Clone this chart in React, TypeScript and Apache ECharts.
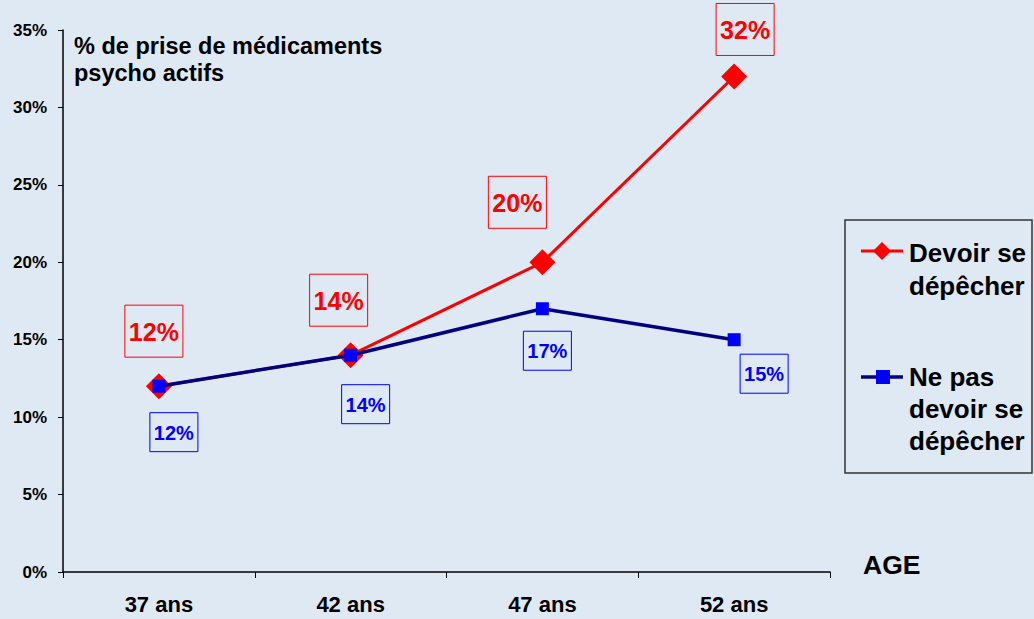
import React, { useEffect, useRef } from "react";
import * as echarts from "echarts";

const categories = ["37 ans", "42 ans", "47 ans", "52 ans"];
const seriesRushName = "Devoir se dépêcher";
const seriesNoRushName = "Ne pas devoir se dépêcher";
const rushValues = [12, 14, 20, 32];
const noRushValues = [12, 14, 17, 15];
const yTicks = [0, 5, 10, 15, 20, 25, 30, 35];

// label nudges (dx, dy) per point, as placed in the reference
const rushLabelNudge = [[-5, -2], [-12, -2], [-25, -7], [11, 6]];
const noRushLabelNudge = [[15, 0], [15, 3], [5, -4], [30, -12]];

const FONT = '"Liberation Sans", Arial, sans-serif';

export default function App() {
  const ref = useRef<HTMLDivElement>(null);
  useEffect(() => {
    if (!ref.current) return;
    const chart = echarts.init(ref.current, null, { renderer: "svg" });
    const rushData = rushValues.map((v, i) => ({
      value: v,
      label: { offset: rushLabelNudge[i] },
    }));
    const noRushData = noRushValues.map((v, i) => ({
      value: v,
      label: { offset: noRushLabelNudge[i] },
    }));
    const option = {
      animation: false,
      backgroundColor: "#dfe9f4",
      textStyle: { fontFamily: FONT },
      title: {
        text: "% de prise de médicaments\npsycho actifs",
        left: 69,
        top: 27,
        textStyle: {
          fontFamily: FONT,
          fontSize: 23.5,
          fontWeight: "bold",
          color: "#000",
          lineHeight: 27,
        },
      },
      grid: { left: 63, right: 204, top: 30, bottom: 47 },
      xAxis: {
        type: "category",
        data: categories,
        boundaryGap: true,
        axisLine: { lineStyle: { color: "#000", width: 1.5 } },
        axisTick: { show: true, length: 6, lineStyle: { color: "#000" } },
        axisLabel: {
          color: "#000",
          fontFamily: FONT,
          fontWeight: "bold",
          fontSize: 22,
          margin: 21,
        },
      },
      yAxis: {
        type: "value",
        min: yTicks[0],
        max: yTicks[yTicks.length - 1],
        interval: 5,
        axisLine: { show: true, lineStyle: { color: "#000", width: 1.5 } },
        axisTick: { show: true, length: 5, lineStyle: { color: "#000" } },
        splitLine: { show: false },
        axisLabel: {
          color: "#000",
          fontFamily: FONT,
          fontWeight: "bold",
          fontSize: 17,
          margin: 16,
          formatter: "{value}%",
        },
      },
      series: [
        {
          name: seriesRushName,
          type: "line",
          data: rushData,
          symbol: "diamond",
          symbolSize: 26,
          lineStyle: { color: "#ff0000", width: 3 },
          itemStyle: { color: "#ff0000" },
          z: 2,
          label: {
            show: true,
            position: "top",
            distance: 14,
            formatter: "{c}%",
            color: "#ff0000",
            fontFamily: FONT,
            fontWeight: "bold",
            fontSize: 25,
            borderColor: "#ff0000",
            borderWidth: 1,
            padding: [14, 4, 13, 4],
          },
        },
        {
          name: seriesNoRushName,
          type: "line",
          data: noRushData,
          symbol: "rect",
          symbolSize: 13,
          lineStyle: { color: "#000080", width: 3.5 },
          itemStyle: { color: "#0000ff" },
          z: 3,
          label: {
            show: true,
            position: "bottom",
            distance: 20,
            formatter: "{c}%",
            color: "#0000ff",
            fontFamily: FONT,
            fontWeight: "bold",
            fontSize: 20,
            borderColor: "#0000ff",
            borderWidth: 1,
            padding: [10, 4, 9, 4],
          },
        },
      ],
      graphic: [
        {
          type: "text",
          left: 863,
          top: 551,
          style: {
            text: "AGE",
            font: `bold 26.5px ${FONT}`,
            fill: "#000",
          },
        },
        {
          type: "rect",
          shape: { x: 845, y: 220, width: 187, height: 253 },
          style: { fill: "transparent", stroke: "#333", lineWidth: 1.5 },
        },
        {
          type: "line",
          shape: { x1: 861, y1: 251, x2: 903, y2: 251 },
          style: { stroke: "#ff0000", lineWidth: 3 },
        },
        {
          type: "polygon",
          shape: { points: [[882, 242], [891, 251], [882, 260], [873, 251]] },
          style: { fill: "#ff0000" },
        },
        {
          type: "text",
          x: 909,
          y: 236,
          style: {
            text: "Devoir se\ndépêcher",
            font: `bold 26px ${FONT}`,
            lineHeight: 33,
            fill: "#000",
          },
        },
        {
          type: "line",
          shape: { x1: 861, y1: 377, x2: 903, y2: 377 },
          style: { stroke: "#000080", lineWidth: 3.5 },
        },
        {
          type: "rect",
          shape: { x: 876, y: 370, width: 14, height: 14 },
          style: { fill: "#0000ff" },
        },
        {
          type: "text",
          x: 909,
          y: 361,
          style: {
            text: "Ne pas\ndevoir se\ndépêcher",
            font: `bold 26px ${FONT}`,
            lineHeight: 32,
            fill: "#000",
          },
        },
      ],
    };
    chart.setOption(option as any);
    return () => chart.dispose();
  }, []);
  return (
    <div
      ref={ref}
      style={{ position: "absolute", left: 0, top: 0, width: 1034, height: 619 }}
    />
  );
}
